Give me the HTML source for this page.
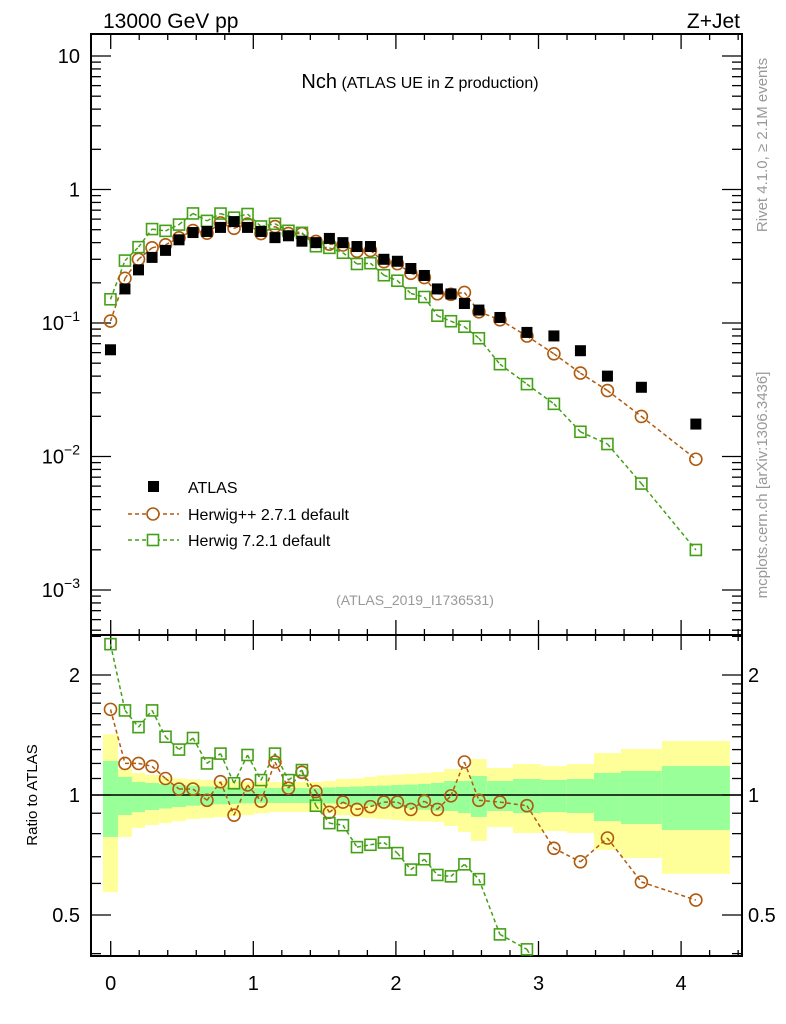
<!DOCTYPE html>
<html><head><meta charset="utf-8">
<style>
html,body{margin:0;padding:0;background:#fff;width:786px;height:1024px;overflow:hidden;}
svg{display:block;font-family:"Liberation Sans",Arial,sans-serif;}
</style></head>
<body>
<svg id="chart" width="786" height="1024" viewBox="0 0 786 1024" xmlns="http://www.w3.org/2000/svg">
<defs id="defs"></defs>
<rect x="0" y="0" width="786" height="1024" fill="#fff"/>
<g id="bands"></g>
<g id="grid"></g>
<g id="series"></g>
<text x="103" y="28" font-size="21">13000 GeV pp</text>
<text x="740" y="28" font-size="21" text-anchor="end">Z+Jet</text>
<text x="420" y="88" text-anchor="middle"><tspan font-size="20">Nch</tspan><tspan font-size="16"> (ATLAS UE in Z production)</tspan></text>
<text x="415" y="605" font-size="14" fill="#999" text-anchor="middle">(ATLAS_2019_I1736531)</text>
<text transform="translate(767,145) rotate(-90)" font-size="15" fill="#999" text-anchor="middle">Rivet 4.1.0, ≥ 2.1M events</text>
<text transform="translate(767,485) rotate(-90)" font-size="15" fill="#999" text-anchor="middle">mcplots.cern.ch [arXiv:1306.3436]</text>
<text transform="translate(37,795) rotate(-90)" font-size="15" text-anchor="middle">Ratio to ATLAS</text>
<g>
  <rect x="148" y="481" width="11" height="11" fill="#000"/>
  <text x="188" y="493" font-size="16">ATLAS</text>
  <line x1="128" y1="514" x2="179" y2="514" stroke="#b05a0e" stroke-width="1.5" stroke-dasharray="4,3"/>
  <circle cx="153" cy="514" r="6" fill="#fff" stroke="#b05a0e" stroke-width="1.6"/>
  <text x="188" y="520" font-size="16">Herwig++ 2.7.1 default</text>
  <line x1="128" y1="540" x2="179" y2="540" stroke="#44a016" stroke-width="1.5" stroke-dasharray="4,3"/>
  <rect x="147.5" y="534.5" width="11" height="11" fill="#fff" stroke="#44a016" stroke-width="1.6"/>
  <text x="188" y="546" font-size="16">Herwig 7.2.1 default</text>
</g>
</svg>
<script>
const binEdges=[-0.054,0.051,0.149,0.241,0.339,0.430,0.528,0.626,0.724,0.816,0.914,1.005,1.103,1.201,1.292,1.390,1.488,1.579,1.678,1.776,1.867,1.965,2.056,2.154,2.245,2.337,2.435,2.526,2.638,2.821,3.017,3.199,3.389,3.578,3.865,4.342];
const atlasValues=[0.063,0.18,0.25,0.31,0.35,0.42,0.476,0.485,0.52,0.575,0.52,0.485,0.436,0.45,0.41,0.40,0.43,0.40,0.374,0.374,0.30,0.29,0.256,0.227,0.18,0.165,0.14,0.125,0.11,0.085,0.08,0.062,0.04,0.033,0.0175];
const herwigppRatio=[1.64,1.20,1.20,1.18,1.10,1.035,1.035,0.97,1.08,0.89,1.06,0.965,1.21,1.04,1.14,1.02,0.905,0.96,0.92,0.935,0.96,0.96,0.92,0.965,0.92,0.995,1.21,0.97,0.96,0.94,0.735,0.68,0.78,0.605,0.545];
const herwig7Ratio=[2.39,1.63,1.48,1.63,1.40,1.30,1.39,1.20,1.27,1.07,1.26,1.09,1.27,1.09,1.155,0.94,0.85,0.84,0.74,0.75,0.76,0.715,0.65,0.69,0.63,0.625,0.67,0.615,0.447,0.41,0.31,0.247,0.31,0.19,0.114];
const greenHi=[1.217,1.110,1.078,1.072,1.065,1.059,1.055,1.05,1.047,1.045,1.043,1.041,1.041,1.041,1.041,1.041,1.045,1.047,1.05,1.053,1.056,1.059,1.062,1.066,1.072,1.084,1.084,1.116,1.084,1.097,1.091,1.097,1.136,1.149,1.182];
const greenLo=[0.785,0.891,0.906,0.917,0.925,0.933,0.94,0.944,0.948,0.95,0.953,0.955,0.955,0.955,0.955,0.955,0.953,0.948,0.944,0.94,0.935,0.93,0.925,0.918,0.912,0.912,0.901,0.881,0.912,0.901,0.906,0.901,0.860,0.846,0.817];
const yellowHi=[1.42,1.162,1.136,1.123,1.11,1.10,1.095,1.09,1.085,1.08,1.078,1.078,1.078,1.078,1.078,1.078,1.085,1.097,1.10,1.11,1.12,1.125,1.13,1.135,1.142,1.162,1.162,1.231,1.169,1.196,1.182,1.196,1.274,1.305,1.366];
const yellowLo=[0.571,0.785,0.827,0.841,0.85,0.86,0.87,0.875,0.88,0.885,0.89,0.9,0.906,0.906,0.906,0.906,0.9,0.89,0.88,0.875,0.87,0.865,0.86,0.858,0.856,0.836,0.808,0.767,0.831,0.803,0.812,0.803,0.728,0.695,0.634];
const xTickLabels=["0","1","2","3","4"];
const mainTickExps=[1,0,-1,-2,-3];
const ratioTickLabels=["0.5","1","2"];

const NS="http://www.w3.org/2000/svg";
const L=91,R=742,T=34,MID=635,B=956;
function X(v){return 110.7+142.6*v;}
function YM(v){return 189.5-133.5*Math.log10(v);}
function YR(v){return 795-398.6*Math.log10(v);}
function mk(tag,attrs,parent){const e=document.createElementNS(NS,tag);for(const k in attrs)e.setAttribute(k,attrs[k]);parent.appendChild(e);return e;}
const bands=document.getElementById('bands'),grid=document.getElementById('grid'),ser=document.getElementById('series');
const BRN="#b05a0e",GRN="#44a016";

for(let i=0;i<atlasValues.length;i++){
  const x1=X(binEdges[i]),x2=X(binEdges[i+1]);
  const yb=mk('rect',{x:x1,y:YR(yellowHi[i]),width:x2-x1,height:YR(yellowLo[i])-YR(yellowHi[i]),fill:"#ffff99"},bands);
  
  
  const gb=mk('rect',{x:x1,y:YR(greenHi[i]),width:x2-x1,height:YR(greenLo[i])-YR(greenHi[i]),fill:"#99ff99"},bands);
  
  
}
const f1=mk('rect',{x:L,y:T,width:R-L,height:MID-T,fill:"none",stroke:"#000","stroke-width":2},grid);


const f2=mk('rect',{x:L,y:MID,width:R-L,height:B-MID,fill:"none",stroke:"#000","stroke-width":2},grid);


const one=mk('line',{x1:L,x2:R,y1:YR(1),y2:YR(1),stroke:"#000","stroke-width":1.5},grid);


for(let k=0;k<=22;k++){
  const v=k*0.2;const x=X(v);const major=(k%5===0);const len=major?15:6;
  [[T,1],[MID,-1],[MID,1],[B,-1]].forEach(([y,d])=>{mk('line',{x1:x,x2:x,y1:y,y2:y+d*len,stroke:"#000","stroke-width":1.3},grid);});
}
xTickLabels.forEach((t,i)=>{const e=mk('text',{x:X(i),y:990,"font-size":20,"text-anchor":"middle"},grid);e.textContent=t;

});
for(let d=-4;d<=1;d++){for(let m=1;m<=9;m++){const v=m*Math.pow(10,d);const y=YM(v);if(y<T||y>MID)continue;const len=m===1?20:10;
mk('line',{x1:L,x2:L+len,y1:y,y2:y,stroke:"#000","stroke-width":1.3},grid);mk('line',{x1:R,x2:R-len,y1:y,y2:y,stroke:"#000","stroke-width":1.3},grid);}}
mainTickExps.forEach(ex=>{const e=mk('text',{x:80,y:YM(Math.pow(10,ex))+7,"font-size":20,"text-anchor":"end"},grid);


if(ex===1)e.textContent="10";else if(ex===0)e.textContent="1";else{e.textContent="10";const s=mk('tspan',{dy:-9,"font-size":14},e);s.textContent="−"+(-ex);}});
const rt=[0.4,0.5,0.6,0.7,0.8,0.9,1,1.1,1.2,1.3,1.4,1.5,1.6,1.7,1.8,1.9,2,2.5];
rt.forEach(v=>{const y=YR(v);if(y<MID||y>B)return;const major=(v===0.5||v===1||v===2);const len=major?20:10;
mk('line',{x1:L,x2:L+len,y1:y,y2:y,stroke:"#000","stroke-width":1.3},grid);mk('line',{x1:R,x2:R-len,y1:y,y2:y,stroke:"#000","stroke-width":1.3},grid);});
ratioTickLabels.forEach(t=>{const y=YR(parseFloat(t))+7;
const a=mk('text',{x:80,y:y,"font-size":20,"text-anchor":"end"},grid);a.textContent=t;


const b=mk('text',{x:748,y:y,"font-size":20},grid);b.textContent=t;

});

const centers=atlasValues.map((_,i)=>(binEdges[i]+binEdges[i+1])/2);
const hpp=atlasValues.map((v,i)=>v*herwigppRatio[i]);
const h7=atlasValues.map((v,i)=>v*herwig7Ratio[i]);

// build a polyline clipped to [top,bot] vertical range
function clippedPoints(vals,fy,top,bot){
  const pts=vals.map((v,i)=>[X(centers[i]),fy(v)]);
  const out=[];
  for(let i=0;i<pts.length-1;i++){
    let [x1,y1]=pts[i],[x2,y2]=pts[i+1];
    const in1=y1>=top&&y1<=bot,in2=y2>=top&&y2<=bot;
    if(!in1&&!in2)continue;
    if(!in1){const yb=y1>bot?bot:top;x1=x1+(x2-x1)*(yb-y1)/(y2-y1);y1=yb;}
    if(!in2){const yb=y2>bot?bot:top;x2=x1+(x2-x1)*(yb-y1)/(y2-y1);y2=yb;}
    out.push([x1,y1,x2,y2]);
  }
  return out;
}
function drawLine(vals,fy,col,top,bot,name){
  const segs=clippedPoints(vals,fy,top,bot);
  const d=segs.map(s=>"M"+s[0].toFixed(1)+","+s[1].toFixed(1)+"L"+s[2].toFixed(1)+","+s[3].toFixed(1)).join("");
  const p=mk('path',{d:d,fill:"none",stroke:col,"stroke-width":1.5,"stroke-dasharray":"4,3"},ser);
  
  
}
function drawMarkers(vals,fy,col,shape,top,bot,name){vals.forEach((v,i)=>{const x=X(centers[i]),y=fy(v);
if(y<top-3||y>bot+3)return;let e;
if(shape==='c')e=mk('circle',{cx:x,cy:y,r:6,fill:"none",stroke:col,"stroke-width":1.6},ser);
else e=mk('rect',{x:x-5.5,y:y-5.5,width:11,height:11,fill:"none",stroke:col,"stroke-width":1.6},ser);

});}
drawLine(hpp,YM,BRN,T,MID,'herwigpp-line');
drawLine(h7,YM,GRN,T,MID,'herwig7-line');
drawMarkers(hpp,YM,BRN,'c',T,MID,'herwigpp-point');
drawMarkers(h7,YM,GRN,'s',T,MID,'herwig7-point');
atlasValues.forEach((v,i)=>{const e=mk('rect',{x:X(centers[i])-5.5,y:YM(v)-5.5,width:11,height:11,fill:"#000"},ser);

});
drawLine(herwigppRatio,YR,BRN,MID,B,'herwigpp-ratio-line');
drawLine(herwig7Ratio,YR,GRN,MID,B,'herwig7-ratio-line');
drawMarkers(herwigppRatio,YR,BRN,'c',MID,B,'herwigpp-ratio-point');
drawMarkers(herwig7Ratio,YR,GRN,'s',MID,B,'herwig7-ratio-point');
</script>
</body></html>
